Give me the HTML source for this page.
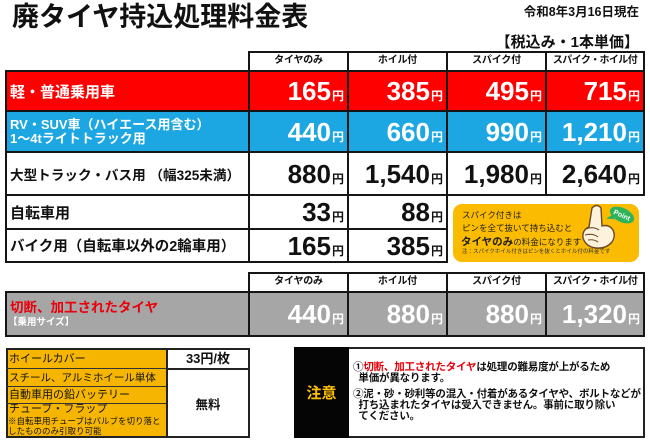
<!DOCTYPE html>
<html><head><meta charset="utf-8">
<style>
*{margin:0;padding:0;box-sizing:border-box}
body{width:650px;height:444px;background:#fff;position:relative;overflow:hidden;font-family:"Liberation Sans","Noto Sans CJK JP",sans-serif;color:#111}
.a{position:absolute}
.c{position:absolute;border:2px solid #151515}
.h{background:#fff;font-size:10px;font-weight:bold;text-align:center;line-height:15px;letter-spacing:-0.2px}
.p{display:flex;align-items:center;justify-content:flex-end;padding-right:3px}
.n{font-size:26px;font-weight:bold;line-height:1;white-space:nowrap}
.n small{font-size:12px;font-weight:bold;margin-left:1px}
.red{background:#ff0000;color:#fff}
.blue{background:#1ca6e2;color:#fff}
.wh{background:#fff;color:#111}
.gr{background:#a6a6a6;color:#fff}
.lab{display:flex;align-items:center;padding-left:3px;font-weight:bold;white-space:nowrap}
.g{background:#f5b500}
</style></head><body>

<div class="a" style="left:12px;top:0;font-size:27px;font-weight:bold;line-height:34px;color:#111">廃タイヤ持込処理料金表</div>
<div class="a" style="right:11px;top:4px;font-size:12.5px;font-weight:bold;line-height:16px">令和8年3月16日現在</div>
<div class="a" style="right:11px;top:34px;font-size:15px;font-weight:bold;line-height:18px">【税込み・1本単価】</div>

<!-- header row -->
<div class="c h" style="left:248px;top:51px;width:101px;height:21px">タイヤのみ</div>
<div class="c h" style="left:347px;top:51px;width:101px;height:21px">ホイル付</div>
<div class="c h" style="left:446px;top:51px;width:101px;height:21px">スパイク付</div>
<div class="c h" style="left:545px;top:51px;width:100px;height:21px;letter-spacing:-0.6px">スパイク・ホイル付</div>

<!-- red row -->
<div class="c red lab" style="left:5px;top:70px;width:245px;height:42px;font-size:15px">軽・普通乗用車</div>
<div class="c red p" style="left:248px;top:70px;width:101px;height:42px"><span class="n">165<small>円</small></span></div>
<div class="c red p" style="left:347px;top:70px;width:101px;height:42px"><span class="n">385<small>円</small></span></div>
<div class="c red p" style="left:446px;top:70px;width:101px;height:42px"><span class="n">495<small>円</small></span></div>
<div class="c red p" style="left:545px;top:70px;width:100px;height:42px"><span class="n">715<small>円</small></span></div>

<!-- blue row -->
<div class="c blue lab" style="left:5px;top:110px;width:245px;height:43px;font-size:13px;line-height:14px;align-items:center"><span>RV・SUV車（ハイエース用含む）<br>1～4tライトトラック用</span></div>
<div class="c blue p" style="left:248px;top:110px;width:101px;height:43px"><span class="n">440<small>円</small></span></div>
<div class="c blue p" style="left:347px;top:110px;width:101px;height:43px"><span class="n">660<small>円</small></span></div>
<div class="c blue p" style="left:446px;top:110px;width:101px;height:43px"><span class="n">990<small>円</small></span></div>
<div class="c blue p" style="left:545px;top:110px;width:100px;height:43px"><span class="n">1,210<small>円</small></span></div>

<!-- large truck row -->
<div class="c wh lab" style="left:5px;top:151px;width:245px;height:45px;font-size:13.6px">大型トラック・バス用 （幅325未満）</div>
<div class="c wh p" style="left:248px;top:151px;width:101px;height:45px"><span class="n">880<small>円</small></span></div>
<div class="c wh p" style="left:347px;top:151px;width:101px;height:45px"><span class="n">1,540<small>円</small></span></div>
<div class="c wh p" style="left:446px;top:151px;width:101px;height:45px"><span class="n">1,980<small>円</small></span></div>
<div class="c wh p" style="left:545px;top:151px;width:100px;height:45px"><span class="n">2,640<small>円</small></span></div>

<!-- bicycle row -->
<div class="c wh lab" style="left:5px;top:194px;width:245px;height:36px;font-size:15px">自転車用</div>
<div class="c wh p" style="left:248px;top:194px;width:101px;height:36px"><span class="n">33<small>円</small></span></div>
<div class="c wh p" style="left:347px;top:194px;width:101px;height:36px"><span class="n">88<small>円</small></span></div>

<!-- bike row -->
<div class="c wh lab" style="left:5px;top:228px;width:245px;height:35px;font-size:14.5px">バイク用（自転車以外の2輪車用）</div>
<div class="c wh p" style="left:248px;top:228px;width:101px;height:35px"><span class="n">165<small>円</small></span></div>
<div class="c wh p" style="left:347px;top:228px;width:101px;height:35px"><span class="n">385<small>円</small></span></div>

<!-- point box -->
<div class="a" style="left:453px;top:204px;width:186px;height:58px;border-radius:9px;background:#fabb00"></div>
<div class="a" style="left:462px;top:209px;font-size:8.5px;line-height:13px;color:#222;white-space:nowrap">スパイク付きは<br>ピンを全て抜いて持ち込むと</div>
<div class="a" style="left:461px;top:235px;font-size:8.5px;line-height:14px;color:#222;white-space:nowrap"><b style="font-size:10.5px">タイヤのみ</b>の料金になります</div>
<div class="a" style="left:462px;top:249px;font-size:5.5px;line-height:7px;color:#333;white-space:nowrap">注：スパイクホイル付きはピンを抜くとホイル付の料金です</div>
<svg class="a" style="left:576px;top:202px" width="64" height="50" viewBox="0 0 64 50">
  <path d="M16 6 q5-5 9 0 l1 18 q7-2 11 4 q3 6-1 12 q-6 7-16 6 q-10-1-13-10 q-1-8 6-11 z" fill="#fdf3dc" stroke="#6b4a2a" stroke-width="1.4"/>
  <path d="M10 27 q7-3 13 1 M9 33 q8-2 13 2 M12 38 q6-1 10 2" fill="none" stroke="#6b4a2a" stroke-width="1.1"/>
  <g transform="rotate(25 46 13)">
    <ellipse cx="46" cy="13" rx="13" ry="7" fill="#2fb35a"/>
    <path d="M37 17 l-4 6 l8-3z" fill="#2fb35a"/>
    <text x="46" y="15.5" font-size="7" font-weight="bold" fill="#fff" text-anchor="middle" font-family="Liberation Sans, sans-serif">Point</text>
  </g>
</svg>

<!-- gray section -->
<div class="c h" style="left:248px;top:272px;width:101px;height:21px">タイヤのみ</div>
<div class="c h" style="left:347px;top:272px;width:101px;height:21px">ホイル付</div>
<div class="c h" style="left:446px;top:272px;width:101px;height:21px">スパイク付</div>
<div class="c h" style="left:545px;top:272px;width:100px;height:21px;letter-spacing:-0.6px">スパイク・ホイル付</div>

<div class="c gr" style="left:5px;top:291px;width:245px;height:46px"></div>
<div class="a" style="left:10px;top:300px;font-size:13.5px;font-weight:bold;line-height:16px;color:#e8000b;white-space:nowrap">切断、加工されたタイヤ</div>
<div class="a" style="left:8px;top:317px;font-size:9.5px;font-weight:bold;line-height:12px;color:#fff;white-space:nowrap">【乗用サイズ】</div>
<div class="c gr p" style="left:248px;top:291px;width:101px;height:46px"><span class="n">440<small>円</small></span></div>
<div class="c gr p" style="left:347px;top:291px;width:101px;height:46px"><span class="n">880<small>円</small></span></div>
<div class="c gr p" style="left:446px;top:291px;width:101px;height:46px"><span class="n">880<small>円</small></span></div>
<div class="c gr p" style="left:545px;top:291px;width:100px;height:46px"><span class="n">1,320<small>円</small></span></div>

<!-- bottom-left table -->
<div class="a g" style="left:6px;top:348px;width:162px;height:90px;border:2px solid #222"></div>
<div class="a" style="left:6px;top:368px;width:162px;height:1px;background:#333"></div>
<div class="a" style="left:6px;top:386px;width:162px;height:1px;background:#333"></div>
<div class="a" style="left:6px;top:403px;width:162px;height:1px;background:#333"></div>
<div class="a" style="left:166px;top:348px;width:84px;height:90px;border:2px solid #222;background:#fff"></div>
<div class="a" style="left:166px;top:368px;width:84px;height:2px;background:#222"></div>
<div class="a" style="left:9px;top:351px;font-size:11px;line-height:16px;white-space:nowrap">ホイールカバー</div>
<div class="a" style="left:9px;top:370px;font-size:10.5px;line-height:16px;white-space:nowrap">スチール、アルミホイール単体</div>
<div class="a" style="left:9px;top:387px;font-size:11px;line-height:16px;white-space:nowrap">自動車用の鉛バッテリー</div>
<div class="a" style="left:9px;top:403px;font-size:11px;line-height:13px;white-space:nowrap">チューブ・フラップ</div>
<div class="a" style="left:8px;top:416px;font-size:8.5px;line-height:10px;white-space:nowrap">※自転車用チューブはバルブを切り落と<br>したもののみ引取り可能</div>
<div class="a" style="left:168px;top:350px;width:80px;text-align:center;font-size:13px;font-weight:bold;line-height:18px">33円/枚</div>
<div class="a" style="left:168px;top:396px;width:80px;text-align:center;font-size:12.5px;font-weight:bold;line-height:18px">無料</div>

<!-- note box -->
<div class="a" style="left:294px;top:347px;width:351px;height:91px;border:2px solid #222;background:#fff"></div>
<div class="a" style="left:294px;top:347px;width:55px;height:91px;background:#050505"></div>
<div class="a" style="left:294px;top:384px;width:55px;text-align:center;font-size:15px;font-weight:bold;line-height:20px;color:#ffc000">注意</div>
<div class="a" style="left:353px;top:362px;font-size:10.5px;font-weight:bold;line-height:11px;white-space:nowrap;letter-spacing:-0.2px">①<span style="color:#e8000b">切断、加工されたタイヤ</span>は処理の難易度が上がるため<br>&nbsp;&nbsp;単価が異なります。</div>
<div class="a" style="left:353px;top:389px;font-size:10.5px;font-weight:bold;line-height:11px;white-space:nowrap;letter-spacing:-0.2px">②泥・砂・砂利等の混入・付着があるタイヤや、ボルトなどが<br>&nbsp;&nbsp;打ち込まれたタイヤは受入できません。事前に取り除い<br>&nbsp;&nbsp;てください。</div>

</body></html>
